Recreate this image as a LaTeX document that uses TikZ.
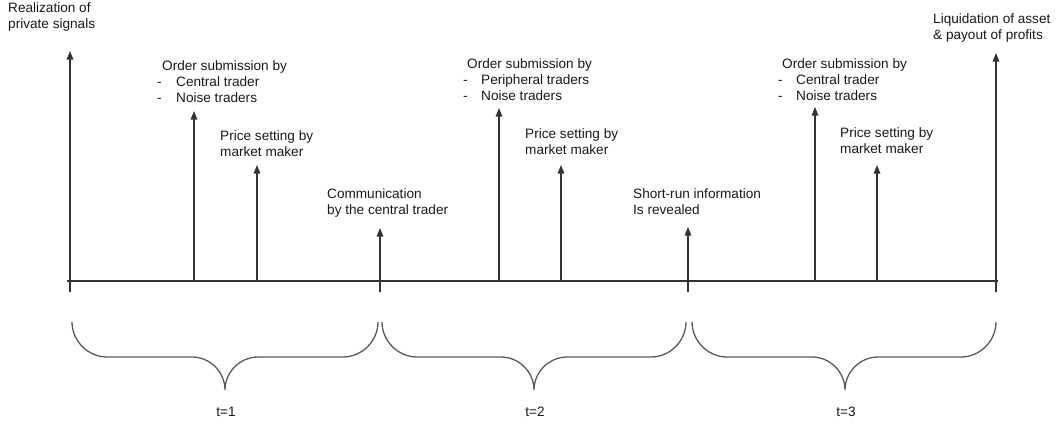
\documentclass[tikz,border=0pt]{standalone}
\usepackage{fontspec}
\setmainfont{Liberation Sans}
\usetikzlibrary{arrows.meta}

\begin{document}
\begin{tikzpicture}[x=1pt, y=-1pt, >={Triangle[width=6.5pt,length=8.5pt]}]
  \tikzset{
    evt/.style={->,draw=black!80,line width=1.2pt},
    axis/.style={draw=black!80,line width=1.2pt},
    brc/.style={draw=black!65,line width=1.3pt},
    lbl/.style={anchor=north west,inner sep=0pt,align=left,text=black!90,
                font=\fontsize{13.6}{16}\selectfont},
    per/.style={inner sep=0pt,text=black!90,font=\fontsize{13.6}{16}\selectfont}
  }
  \useasboundingbox (0,0) rectangle (1057,423);
  % Time axis
  \coordinate (ax0) at (67,281);
  \coordinate (ax1) at (998,281);
  \draw[axis] (ax0) -- (ax1);
  % Period boundaries: tick below the axis, arrow up
  \foreach \i/\x/\y in {0/70/51,1/380/228,2/688/227,3/996/53} {
    \coordinate (tb\i) at (\x,292);
    \coordinate (tt\i) at (\x,\y);
    \draw[evt] (tb\i) -- (tt\i);
  }
  % Events within each period
  \foreach \i/\x/\y in {1/194/111,2/257/165,3/499/108,4/561/165,5/815/107,6/877/165} {
    \coordinate (ob\i) at (\x,281);
    \coordinate (ot\i) at (\x,\y);
    \draw[evt] (ob\i) -- (ot\i);
  }
  % Event labels
  \node[lbl] (real) at (8,2) {Realization of\\private signals};
  \node[lbl] (ord1) at (157,60) {\hspace*{5pt}Order submission by\\
    \makebox[19pt][l]{-}Central trader\\\makebox[19pt][l]{-}Noise traders};
  \node[lbl] (prc1) at (220,130) {Price setting by\\market maker};
  \node[lbl] (com) at (327,188) {Communication\\by the central trader};
  \node[lbl] (ord2) at (463,58) {\hspace*{4pt}Order submission by\\
    \makebox[18pt][l]{-}Peripheral traders\\\makebox[18pt][l]{-}Noise traders};
  \node[lbl] (prc2) at (525,128) {Price setting by\\market maker};
  \node[lbl] (srn) at (633,188) {Short-run information\\Is revealed};
  \node[lbl] (ord3) at (778,58) {\hspace*{4pt}Order submission by\\
    \makebox[18pt][l]{-}Central trader\\\makebox[18pt][l]{-}Noise traders};
  \node[lbl] (prc3) at (840,127) {Price setting by\\market maker};
  \node[lbl] (liq) at (933,13) {Liquidation of asset\\\& payout of profits};
  % Braces under the periods
  \foreach \a/\m/\b/\n in {72/225/378/1,382/534/686/2,692/845/996/3} {
    \draw[brc] (\a,322) .. controls (\a,341) and (\a+16,357) .. (\a+35,357)
      -- (\m-33,357) .. controls (\m-15,357) and (\m,372) .. (\m,390)
      .. controls (\m,372) and (\m+15,357) .. (\m+33,357)
      -- (\b-35,357) .. controls (\b-16,357) and (\b,341) .. (\b,322);
    \node[per] (t\n) at (\m+1,412) {t=\n};
  }
\end{tikzpicture}
\end{document}
